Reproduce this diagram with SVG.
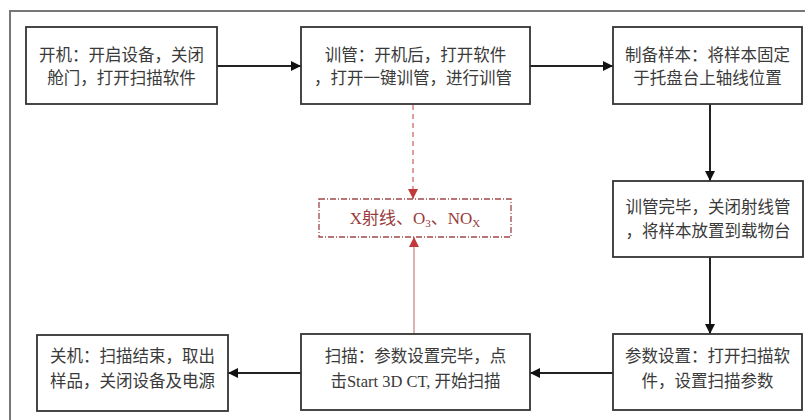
<svg xmlns="http://www.w3.org/2000/svg" width="805" height="420" viewBox="0 0 805 420">
<defs>
<style>
.box{fill:#fff;stroke:#333;stroke-width:1.8}
.t{font-family:"Liberation Serif","Noto Sans CJK SC",serif;font-size:16.5px;fill:#3a3a3a;text-anchor:middle}
.edge{stroke:#222;stroke-width:2;fill:none}
.rt{font-family:"Liberation Serif","Noto Sans CJK SC",serif;font-size:17px;fill:#9a3b3b;text-anchor:middle}
</style>
<marker id="ah" viewBox="0 0 10 10" refX="10" refY="5" markerWidth="10" markerHeight="10" markerUnits="userSpaceOnUse" orient="auto">
<path d="M0,0 L10,5 L0,10 z" fill="#111"/>
</marker>
<marker id="rh" viewBox="0 0 10 10" refX="10" refY="5" markerWidth="10" markerHeight="10" markerUnits="userSpaceOnUse" orient="auto">
<path d="M0,0 L10,5 L0,10 z" fill="#c0393b"/>
</marker>
</defs>
<rect width="805" height="420" fill="#fff"/>
<rect x="10" y="11" width="810" height="430" fill="none" stroke="#777" stroke-width="2"/>

<g id="connectors">
<line class="edge" x1="217" y1="66" x2="301" y2="66" marker-end="url(#ah)"/>
<line class="edge" x1="530" y1="66" x2="613" y2="66" marker-end="url(#ah)"/>
<line class="edge" x1="710" y1="104" x2="710" y2="181" marker-end="url(#ah)"/>
<line class="edge" x1="710" y1="257" x2="710" y2="334" marker-end="url(#ah)"/>
<line class="edge" x1="613" y1="373" x2="530" y2="373" marker-end="url(#ah)"/>
<line class="edge" x1="301" y1="373" x2="228" y2="373" marker-end="url(#ah)"/>
<line x1="413" y1="105" x2="413" y2="199" stroke="#d06a6a" stroke-width="1.3" stroke-dasharray="5,4" marker-end="url(#rh)"/>
<line x1="414" y1="334" x2="414" y2="237" stroke="#d8aaaa" stroke-width="1.8" marker-end="url(#rh)"/>
</g>

<g id="n1">
<rect class="box" x="26" y="27" width="191" height="77"/>
<text class="t" x="121.5" y="61">开机：开启设备，关闭</text>
<text class="t" x="121.5" y="84">舱门，打开扫描软件</text>
</g>
<g id="n2">
<rect class="box" x="301" y="27" width="229" height="77"/>
<text class="t" x="415.5" y="61">训管：开机后，打开软件</text>
<text class="t" x="413" y="84">，打开一键训管，进行训管</text>
</g>
<g id="n3">
<rect class="box" x="613" y="27" width="189" height="77"/>
<text class="t" x="707.5" y="61">制备样本：将样本固定</text>
<text class="t" x="707.5" y="84">于托盘台上轴线位置</text>
</g>
<g id="n4">
<rect class="box" x="613" y="181" width="190" height="76"/>
<text class="t" x="708" y="213">训管完毕，关闭射线管</text>
<text class="t" x="708" y="237">，将样本放置到载物台</text>
</g>
<g id="n5">
<rect class="box" x="613" y="334" width="189" height="76"/>
<text class="t" x="707.5" y="362">参数设置：打开扫描软</text>
<text class="t" x="707.5" y="387">件，设置扫描参数</text>
</g>
<g id="n6">
<rect class="box" x="301" y="334" width="229" height="76"/>
<text class="t" x="415.5" y="362">扫描：参数设置完毕，点</text>
<text class="t" x="415.5" y="387">击Start 3D CT, 开始扫描</text>
</g>
<g id="n7">
<rect class="box" x="37" y="335" width="191" height="76"/>
<text class="t" x="132.5" y="362">关机：扫描结束，取出</text>
<text class="t" x="132.5" y="387">样品，关闭设备及电源</text>
</g>
<g id="n8">
<rect x="319" y="199" width="192" height="38" fill="#fff" stroke="#a04848" stroke-width="1.3" stroke-dasharray="6,2,1,2"/>
<text class="rt" x="415" y="224">X射线、O<tspan font-size="11" dy="3">3</tspan><tspan dy="-3">、NO</tspan><tspan font-size="11" dy="3">X</tspan></text>
</g>
</svg>
